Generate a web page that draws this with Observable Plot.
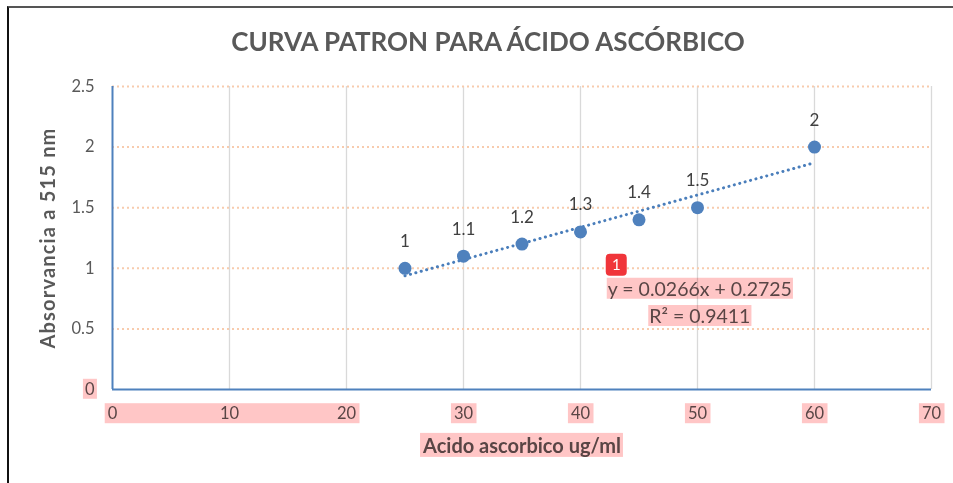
<!DOCTYPE html>
<html><head><meta charset="utf-8">
<script src="https://cdn.jsdelivr.net/npm/d3@7"></script>
<script src="https://cdn.jsdelivr.net/npm/@observablehq/plot@0.6"></script>
<style>
body{margin:0;background:#fff;}
#wrap{position:relative;width:953px;height:483px;overflow:hidden;}
#frame{position:absolute;left:7px;top:6px;right:-10px;bottom:-10px;border-left:2.5px solid #111;border-top:2px solid #555;}
#wrap svg{position:absolute;left:0;top:0;}
</style></head><body><div id="wrap"><div id="frame"></div></div>
<script>
const concentration = [25, 30, 35, 40, 45, 50, 60];
const absorbance = [1, 1.1, 1.2, 1.3, 1.4, 1.5, 2];
const xTicks = [0, 10, 20, 30, 40, 50, 60, 70];
const yTicks = [0, 0.5, 1, 1.5, 2, 2.5];
const title = "CURVA PATRON PARA ÁCIDO ASCÓRBICO";
const xTitle = "Acido ascorbico ug/ml";
const yTitle = "Absorvancia a 515 nm";
const equation = ["y = 0.0266x + 0.2725", "R² = 0.9411"];

const data = concentration.map((x, i) => ({x, y: absorbance[i]}));
const font = "Lato, 'Open Sans', sans-serif";
const blue = "#4f81bd";
const gray = "#595959";

const chart = Plot.plot({
  width: 953, height: 483,
  marginLeft: 112, marginRight: 22, marginTop: 86, marginBottom: 94,
  style: {fontFamily: font, background: "transparent", overflow: "visible", color: gray},
  x: {domain: [0, 70]},
  y: {domain: [0, 2.5]},
  marks: [
    Plot.ruleX(xTicks.filter(d => d > 0), {y1: 0, y2: 2.5, stroke: "#d9d9d9", strokeWidth: 1.3}),
    Plot.ruleY(yTicks.filter(d => d > 0), {x1: 0, x2: 70, stroke: "#f8cbad", strokeWidth: 2, strokeDasharray: "2,3"}),
    Plot.axisX({ticks: xTicks, tickSize: 0, tickPadding: 18, fontSize: 16.5, label: null, tickFormat: d => String(d)}),
    Plot.axisY({ticks: yTicks, tickSize: 0, tickPadding: 18, fontSize: 16.5, label: null, tickFormat: d => String(d)}),
    Plot.ruleX([0], {y1: 0, y2: 2.5, stroke: blue, strokeWidth: 2}),
    Plot.ruleY([0], {x1: 0, x2: 70, stroke: blue, strokeWidth: 2}),
    Plot.linearRegressionY(data, {x: "x", y: "y", ci: 0, stroke: "#4a7ebb", strokeWidth: 3, strokeDasharray: "0.1,5.5", strokeLinecap: "round"}),
    Plot.dot(data, {x: "x", y: "y", r: 6.5, fill: blue, stroke: "none"}),
    Plot.text(data, {x: "x", y: "y", text: d => String(d.y), dy: -27, fontSize: 17, fill: "#404040"}),
    Plot.text([title], {text: d => d, frameAnchor: "top", lineAnchor: "middle", dx: -34, dy: -44, fontSize: 26, fontWeight: "bold", fill: gray}),
    Plot.text([yTitle], {text: d => d, frameAnchor: "left", textAnchor: "middle", lineAnchor: "middle", dx: -64, rotate: -90, fontSize: 20, fontWeight: "bold", fill: gray}),
    Plot.text([xTitle], {text: d => d, frameAnchor: "bottom", lineAnchor: "middle", dy: 57, fontSize: 20, fontWeight: "bold", fill: gray}),
    Plot.text([equation[0]], {text: d => d, x: () => 50.2, y: () => 0.825, fontSize: 19.5, fill: gray}),
    Plot.text([equation[1]], {text: d => d, x: () => 50.2, y: () => 0.60, fontSize: 19.5, fill: gray})
  ]
});
document.getElementById("wrap").append(chart);

const allTexts = Array.from(chart.querySelectorAll("text"));
const byText = s => allTexts.filter(t => t.textContent === s);
byText(yTitle).forEach(t => t.style.letterSpacing = "1.2px");

// highlight overlays (multiply blend) around selected text
const svgRect = chart.getBoundingClientRect();
function boxOf(nodes) {
  let x0 = Infinity, y0 = Infinity, x1 = -Infinity, y1 = -Infinity;
  nodes.forEach(n => {
    const r = n.getBoundingClientRect();
    x0 = Math.min(x0, r.left - svgRect.left); y0 = Math.min(y0, r.top - svgRect.top);
    x1 = Math.max(x1, r.right - svgRect.left); y1 = Math.max(y1, r.bottom - svgRect.top);
  });
  return {x0, y0, x1, y1};
}
const layer = d3.select(chart).append("g");
function hl(b, px, py) {
  if (!isFinite(b.x0)) return;
  layer.append("rect")
    .attr("x", b.x0 - px).attr("y", b.y0 - py)
    .attr("width", b.x1 - b.x0 + 2 * px).attr("height", b.y1 - b.y0 + 2 * py)
    .attr("fill", "#ffc6c6").style("mix-blend-mode", "multiply");
}
const xLabels = Array.from(chart.querySelectorAll('g[aria-label="x-axis tick label"] text'));
const yLabels = Array.from(chart.querySelectorAll('g[aria-label="y-axis tick label"] text'));
hl(boxOf(xLabels.slice(0, 3)), 3, 0);
xLabels.slice(3).forEach(t => hl(boxOf([t]), 3, 0));
const yZero = yLabels.filter(t => t.textContent === "0");
hl(boxOf(yZero), 2, 0);
hl(boxOf(byText(xTitle)), 2, 0);
const eq1 = boxOf(byText(equation[0]));
hl(eq1, 1, -1);
hl(boxOf(byText(equation[1])), 1, -1);
// numbered badge
if (isFinite(eq1.x0)) {
  const badge = layer.append("g").attr("transform", `translate(${eq1.x0 - 2},${eq1.y0 - 23})`);
  badge.append("rect").attr("width", 21).attr("height", 22).attr("rx", 4).attr("fill", "#f0353a");
  badge.append("text").attr("x", 10.5).attr("y", 16.5).attr("text-anchor", "middle")
    .attr("fill", "#fff").attr("font-size", 15).attr("font-family", font).text("1");
}
</script></body></html>
